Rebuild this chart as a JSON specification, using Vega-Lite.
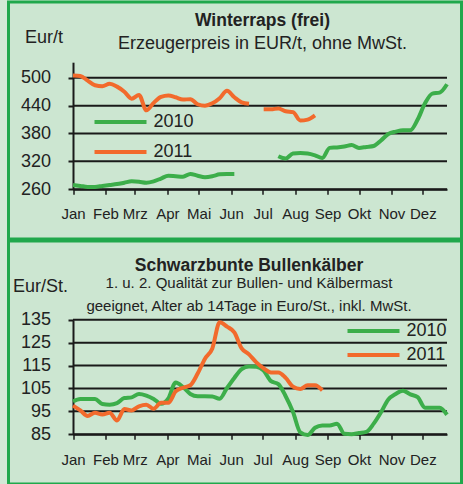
{
  "$schema": "https://vega.github.io/schema/vega-lite/v6.json",
  "background": "#d2e9d6",
  "padding": {"left": 6.5, "top": 0, "right": 0, "bottom": 0},
  "spacing": -3,
  "config": {
    "font": "Liberation Sans",
    "view": {"fill": "#cce6d1", "stroke": "#20a84c", "strokeWidth": 3},
    "axis": {"domainColor": "#1a1a1a", "domainWidth": 2, "tickColor": "#1a1a1a", "tickWidth": 2, "tickSize": 5, "labelColor": "#222222", "labelFont": "Liberation Sans", "grid": false, "titleColor": "#222222", "titleFont": "Liberation Sans", "titleFontWeight": "normal", "labelOverlap": false, "labelFlush": false},
    "title": {"color": "#222222", "subtitleColor": "#222222", "font": "Liberation Sans", "subtitleFont": "Liberation Sans", "anchor": "middle", "frame": "group"}
  },
  "resolve": {"scale": {"x": "independent", "y": "independent", "color": "independent"}, "legend": {"color": "independent"}},
  "vconcat": [
    {
      "width": 453,
      "height": 237,
      "title": {"text": "Winterraps (frei)", "subtitle": "Erzeugerpreis in  EUR/t, ohne MwSt.", "fontSize": 17.5, "fontWeight": "bold", "subtitleFontSize": 18, "subtitlePadding": 5.5, "offset": -51, "dx": 27.5},
      "layer": [
        {
          "data": {"values": [{"wert": 260}, {"wert": 320}, {"wert": 380}, {"wert": 440}, {"wert": 500}]},
          "mark": {"type": "rule", "color": "#1a1a1a", "strokeWidth": 2},
          "encoding": {
            "y": {"field": "wert", "type": "quantitative", "scale": {"domain": [260, 533.6], "range": [187.2, 60.2], "nice": false, "zero": false}, "axis": {"values": [260, 320, 380, 440, 500], "offset": -64.5, "title": "Eur/t", "titleAngle": 0, "titleAlign": "left", "titleBaseline": "alphabetic", "titleX": -48.5, "titleY": 40.5, "titleFontSize": 18, "labelFontSize": 18, "labelPadding": 17.5}},
            "x": {"datum": 1, "type": "quantitative", "scale": {"domain": [1, 52], "range": [64.5, 438.5], "nice": false, "zero": false}, "axis": {"values": [1, 5.43, 9.43, 13.86, 18.14, 22.57, 26.86, 31.29, 35.71, 40, 44.43, 48.71], "labelExpr": "['Jan','Feb','Mrz','Apr','Mai','Jun','Jul','Aug','Sep','Okt','Nov','Dez'][round((datum.value - 1) * 7 / 30.42)]", "offset": -49.8, "title": null, "labelFontSize": 15, "labelPadding": 12, "tickWidth": 1.5}},
            "x2": {"datum": 52}
          }
        },
        {
          "data": {"values": [
            {"woche": 1, "jahr": "2010", "preis": 269}, {"woche": 2, "jahr": "2010", "preis": 267}, {"woche": 3, "jahr": "2010", "preis": 265}, {"woche": 4, "jahr": "2010", "preis": 265}, {"woche": 5, "jahr": "2010", "preis": 267}, {"woche": 6, "jahr": "2010", "preis": 269}, {"woche": 7, "jahr": "2010", "preis": 271}, {"woche": 8, "jahr": "2010", "preis": 274}, {"woche": 9, "jahr": "2010", "preis": 277}, {"woche": 10, "jahr": "2010", "preis": 276}, {"woche": 11, "jahr": "2010", "preis": 274}, {"woche": 12, "jahr": "2010", "preis": 277}, {"woche": 13, "jahr": "2010", "preis": 283}, {"woche": 14, "jahr": "2010", "preis": 289}, {"woche": 15, "jahr": "2010", "preis": 288}, {"woche": 16, "jahr": "2010", "preis": 287}, {"woche": 17, "jahr": "2010", "preis": 293}, {"woche": 18, "jahr": "2010", "preis": 289}, {"woche": 19, "jahr": "2010", "preis": 286}, {"woche": 20, "jahr": "2010", "preis": 288}, {"woche": 21, "jahr": "2010", "preis": 292}, {"woche": 22, "jahr": "2010", "preis": 293}, {"woche": 23, "jahr": "2010", "preis": 293}, {"woche": 24, "jahr": "2010", "preis": null},
            {"woche": 29, "jahr": "2010", "preis": 331}, {"woche": 30, "jahr": "2010", "preis": 326}, {"woche": 31, "jahr": "2010", "preis": 337}, {"woche": 32, "jahr": "2010", "preis": 338}, {"woche": 33, "jahr": "2010", "preis": 337}, {"woche": 34, "jahr": "2010", "preis": 333}, {"woche": 35, "jahr": "2010", "preis": 327}, {"woche": 36, "jahr": "2010", "preis": 349}, {"woche": 37, "jahr": "2010", "preis": 350}, {"woche": 38, "jahr": "2010", "preis": 352}, {"woche": 39, "jahr": "2010", "preis": 355}, {"woche": 40, "jahr": "2010", "preis": 349}, {"woche": 41, "jahr": "2010", "preis": 351}, {"woche": 42, "jahr": "2010", "preis": 353}, {"woche": 43, "jahr": "2010", "preis": 365}, {"woche": 44, "jahr": "2010", "preis": 379}, {"woche": 45, "jahr": "2010", "preis": 384}, {"woche": 46, "jahr": "2010", "preis": 387}, {"woche": 47, "jahr": "2010", "preis": 387}, {"woche": 48, "jahr": "2010", "preis": 410}, {"woche": 49, "jahr": "2010", "preis": 445}, {"woche": 50, "jahr": "2010", "preis": 466}, {"woche": 51, "jahr": "2010", "preis": 468}, {"woche": 52, "jahr": "2010", "preis": 486},
            {"woche": 1, "jahr": "2011", "preis": 505}, {"woche": 2, "jahr": "2011", "preis": 504}, {"woche": 3, "jahr": "2011", "preis": 494}, {"woche": 4, "jahr": "2011", "preis": 484}, {"woche": 5, "jahr": "2011", "preis": 482}, {"woche": 6, "jahr": "2011", "preis": 487}, {"woche": 7, "jahr": "2011", "preis": 481}, {"woche": 8, "jahr": "2011", "preis": 470}, {"woche": 9, "jahr": "2011", "preis": 455}, {"woche": 10, "jahr": "2011", "preis": 463}, {"woche": 11, "jahr": "2011", "preis": 430}, {"woche": 12, "jahr": "2011", "preis": 446}, {"woche": 13, "jahr": "2011", "preis": 459}, {"woche": 14, "jahr": "2011", "preis": 462}, {"woche": 15, "jahr": "2011", "preis": 458}, {"woche": 16, "jahr": "2011", "preis": 453}, {"woche": 17, "jahr": "2011", "preis": 454}, {"woche": 18, "jahr": "2011", "preis": 443}, {"woche": 19, "jahr": "2011", "preis": 440}, {"woche": 20, "jahr": "2011", "preis": 445}, {"woche": 21, "jahr": "2011", "preis": 456}, {"woche": 22, "jahr": "2011", "preis": 472}, {"woche": 23, "jahr": "2011", "preis": 458}, {"woche": 24, "jahr": "2011", "preis": 447}, {"woche": 25, "jahr": "2011", "preis": 444}, {"woche": 26, "jahr": "2011", "preis": null},
            {"woche": 27, "jahr": "2011", "preis": 432}, {"woche": 28, "jahr": "2011", "preis": 432}, {"woche": 29, "jahr": "2011", "preis": 434}, {"woche": 30, "jahr": "2011", "preis": 428}, {"woche": 31, "jahr": "2011", "preis": 426}, {"woche": 32, "jahr": "2011", "preis": 408}, {"woche": 33, "jahr": "2011", "preis": 410}, {"woche": 34, "jahr": "2011", "preis": 419}
          ]},
          "mark": {"type": "line", "strokeWidth": 4, "interpolate": "monotone", "invalid": "break-paths-filter-domains"},
          "encoding": {
            "x": {"field": "woche", "type": "quantitative"},
            "y": {"field": "preis", "type": "quantitative"},
            "color": {"field": "jahr", "type": "nominal", "scale": {"domain": ["2010", "2011"], "range": ["#3cae4a", "#f26a2c"]}, "legend": {"orient": "none", "legendX": 97, "legendY": 105, "title": null, "symbolType": "M-2,0H2", "symbolSize": 676, "symbolStrokeWidth": 4, "labelFontSize": 18, "labelColor": "#222222", "labelOffset": 18, "rowPadding": 6, "padding": 0}}
          }
        }
      ]
    },
    {
      "width": 453,
      "height": 243,
      "title": {"text": "Schwarzbunte Bullenkälber", "subtitle": ["1. u. 2. Qualität zur Bullen- und Kälbermast", "geeignet, Alter ab  14Tage in Euro/St.,  inkl. MwSt."], "fontSize": 17.5, "fontWeight": "bold", "subtitleFontSize": 15, "subtitleLineHeight": 23, "subtitlePadding": 2, "offset": -73, "dx": 14},
      "layer": [
        {
          "data": {"values": [{"wert": 85}, {"wert": 95}, {"wert": 105}, {"wert": 115}, {"wert": 125}, {"wert": 135}]},
          "mark": {"type": "rule", "color": "#1a1a1a", "strokeWidth": 2},
          "encoding": {
            "y": {"field": "wert", "type": "quantitative", "scale": {"domain": [85, 135], "range": [193.2, 78.8], "nice": false, "zero": false}, "axis": {"values": [85, 95, 105, 115, 125, 135], "offset": -64.5, "title": "Eur/St.", "titleAngle": 0, "titleAlign": "left", "titleBaseline": "alphabetic", "titleX": -60.5, "titleY": 50, "titleFontSize": 18, "labelFontSize": 18, "labelPadding": 17.5}},
            "x": {"datum": 1, "type": "quantitative", "scale": {"domain": [1, 52], "range": [64.5, 438.5], "nice": false, "zero": false}, "axis": {"values": [1, 5.43, 9.43, 13.86, 18.14, 22.57, 26.86, 31.29, 35.71, 40, 44.43, 48.71], "labelExpr": "['Jan','Feb','Mrz','Apr','Mai','Jun','Jul','Aug','Sep','Okt','Nov','Dez'][round((datum.value - 1) * 7 / 30.42)]", "offset": -49.8, "title": null, "labelFontSize": 15, "labelPadding": 13, "tickWidth": 1.5}},
            "x2": {"datum": 52}
          }
        },
        {
          "data": {"values": [
            {"woche": 1, "jahr": "2010", "preis": 99.3}, {"woche": 2, "jahr": "2010", "preis": 100.4}, {"woche": 3, "jahr": "2010", "preis": 100.4}, {"woche": 4, "jahr": "2010", "preis": 100.4}, {"woche": 5, "jahr": "2010", "preis": 98.2}, {"woche": 6, "jahr": "2010", "preis": 97.9}, {"woche": 7, "jahr": "2010", "preis": 98.6}, {"woche": 8, "jahr": "2010", "preis": 100.8}, {"woche": 9, "jahr": "2010", "preis": 101.1}, {"woche": 10, "jahr": "2010", "preis": 102.6}, {"woche": 11, "jahr": "2010", "preis": 101.9}, {"woche": 12, "jahr": "2010", "preis": 100.4}, {"woche": 13, "jahr": "2010", "preis": 98.3}, {"woche": 14, "jahr": "2010", "preis": 100.6}, {"woche": 15, "jahr": "2010", "preis": 107.6}, {"woche": 16, "jahr": "2010", "preis": 105.6}, {"woche": 17, "jahr": "2010", "preis": 102.6}, {"woche": 18, "jahr": "2010", "preis": 101.6}, {"woche": 19, "jahr": "2010", "preis": 101.6}, {"woche": 20, "jahr": "2010", "preis": 101.5}, {"woche": 21, "jahr": "2010", "preis": 100.5}, {"woche": 22, "jahr": "2010", "preis": 105.2}, {"woche": 23, "jahr": "2010", "preis": 109.6}, {"woche": 24, "jahr": "2010", "preis": 113.4}, {"woche": 25, "jahr": "2010", "preis": 114.6}, {"woche": 26, "jahr": "2010", "preis": 114.5}, {"woche": 27, "jahr": "2010", "preis": 112.8}, {"woche": 28, "jahr": "2010", "preis": 108.2}, {"woche": 29, "jahr": "2010", "preis": 106.9}, {"woche": 30, "jahr": "2010", "preis": 101.6}, {"woche": 31, "jahr": "2010", "preis": 94.7}, {"woche": 32, "jahr": "2010", "preis": 85.8}, {"woche": 33, "jahr": "2010", "preis": 84.6}, {"woche": 34, "jahr": "2010", "preis": 87.8}, {"woche": 35, "jahr": "2010", "preis": 88.8}, {"woche": 36, "jahr": "2010", "preis": 88.8}, {"woche": 37, "jahr": "2010", "preis": 89.6}, {"woche": 38, "jahr": "2010", "preis": 85.2}, {"woche": 39, "jahr": "2010", "preis": 85}, {"woche": 40, "jahr": "2010", "preis": 85.5}, {"woche": 41, "jahr": "2010", "preis": 86}, {"woche": 42, "jahr": "2010", "preis": 89.6}, {"woche": 43, "jahr": "2010", "preis": 94.6}, {"woche": 44, "jahr": "2010", "preis": 100.2}, {"woche": 45, "jahr": "2010", "preis": 102.6}, {"woche": 46, "jahr": "2010", "preis": 104}, {"woche": 47, "jahr": "2010", "preis": 102.4}, {"woche": 48, "jahr": "2010", "preis": 101.2}, {"woche": 49, "jahr": "2010", "preis": 96.6}, {"woche": 50, "jahr": "2010", "preis": 96.6}, {"woche": 51, "jahr": "2010", "preis": 96.6}, {"woche": 52, "jahr": "2010", "preis": 93.5},
            {"woche": 1, "jahr": "2011", "preis": 97.5}, {"woche": 2, "jahr": "2011", "preis": 95.4}, {"woche": 3, "jahr": "2011", "preis": 93}, {"woche": 4, "jahr": "2011", "preis": 94.4}, {"woche": 5, "jahr": "2011", "preis": 93.6}, {"woche": 6, "jahr": "2011", "preis": 94.4}, {"woche": 7, "jahr": "2011", "preis": 91}, {"woche": 8, "jahr": "2011", "preis": 96}, {"woche": 9, "jahr": "2011", "preis": 95.4}, {"woche": 10, "jahr": "2011", "preis": 97.2}, {"woche": 11, "jahr": "2011", "preis": 97.9}, {"woche": 12, "jahr": "2011", "preis": 96.1}, {"woche": 13, "jahr": "2011", "preis": 98.7}, {"woche": 14, "jahr": "2011", "preis": 98.7}, {"woche": 15, "jahr": "2011", "preis": 103.7}, {"woche": 16, "jahr": "2011", "preis": 105.3}, {"woche": 17, "jahr": "2011", "preis": 106.4}, {"woche": 18, "jahr": "2011", "preis": 111.5}, {"woche": 19, "jahr": "2011", "preis": 118}, {"woche": 20, "jahr": "2011", "preis": 122.5}, {"woche": 21, "jahr": "2011", "preis": 133.9}, {"woche": 22, "jahr": "2011", "preis": 132}, {"woche": 23, "jahr": "2011", "preis": 129.5}, {"woche": 24, "jahr": "2011", "preis": 122.5}, {"woche": 25, "jahr": "2011", "preis": 119.9}, {"woche": 26, "jahr": "2011", "preis": 116.4}, {"woche": 27, "jahr": "2011", "preis": 113.8}, {"woche": 28, "jahr": "2011", "preis": 112}, {"woche": 29, "jahr": "2011", "preis": 112}, {"woche": 30, "jahr": "2011", "preis": 109.6}, {"woche": 31, "jahr": "2011", "preis": 105.8}, {"woche": 32, "jahr": "2011", "preis": 104.8}, {"woche": 33, "jahr": "2011", "preis": 106.4}, {"woche": 34, "jahr": "2011", "preis": 106.4}, {"woche": 35, "jahr": "2011", "preis": 104.2}
          ]},
          "mark": {"type": "line", "strokeWidth": 4, "interpolate": "monotone", "invalid": "break-paths-filter-domains"},
          "encoding": {
            "x": {"field": "woche", "type": "quantitative"},
            "y": {"field": "preis", "type": "quantitative"},
            "color": {"field": "jahr", "type": "nominal", "scale": {"domain": ["2010", "2011"], "range": ["#3cae4a", "#f26a2c"]}, "legend": {"orient": "none", "legendX": 350, "legendY": 75, "title": null, "symbolType": "M-2,0H2", "symbolSize": 676, "symbolStrokeWidth": 4, "labelFontSize": 18, "labelColor": "#222222", "labelOffset": 18, "rowPadding": 0, "padding": 0}}
          }
        }
      ]
    }
  ]
}
